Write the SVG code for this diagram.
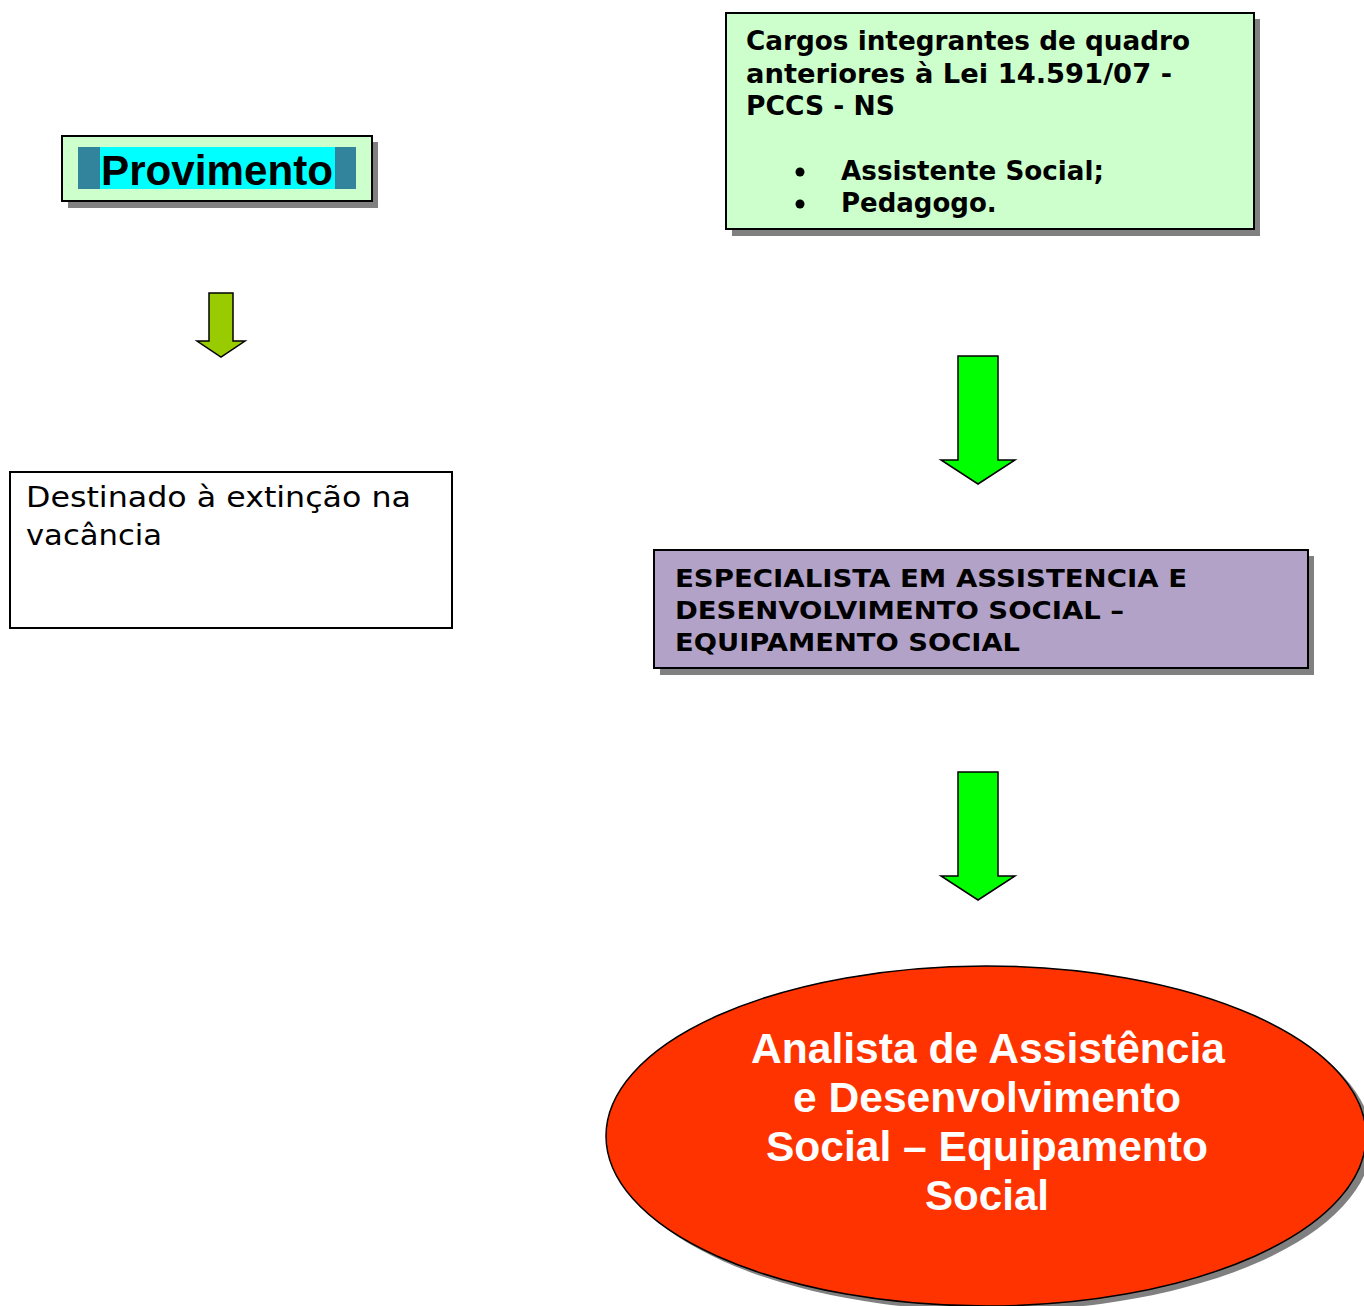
<svg xmlns="http://www.w3.org/2000/svg" width="1364" height="1306" viewBox="0 0 1364 1306">
<style>
.shadow{fill:#808080}
.box{stroke:#000;stroke-width:2}
.v{font-family:"DejaVu Sans",Verdana,sans-serif}
.vb{font-family:"DejaVu Sans",Verdana,sans-serif;font-weight:bold}
.a{font-family:"Liberation Sans",Arial,sans-serif;font-weight:bold}
.arrow{stroke:#000;stroke-width:1.5;stroke-linejoin:miter}
</style>
<rect width="1364" height="1306" fill="#fff"/>
<g id="provimento">
  <rect class="shadow" x="68" y="142" width="310" height="66"/>
  <rect class="box" x="62" y="136" width="310" height="65" fill="#CCFFCC"/>
  <rect x="78" y="147" width="278" height="42" fill="#31849B"/>
  <rect x="100" y="147" width="235" height="42" fill="#00FFFF"/>
  <text class="a" x="101" y="185" font-size="42" textLength="232" lengthAdjust="spacingAndGlyphs">Provimento</text>
</g>
<g id="cargos">
  <rect class="shadow" x="732" y="19" width="528" height="217"/>
  <rect class="box" x="726" y="13" width="528" height="216" fill="#CCFFCC"/>
  <text class="vb" font-size="26" fill="#000">
    <tspan x="746" y="50" textLength="444" lengthAdjust="spacingAndGlyphs">Cargos integrantes de quadro</tspan>
    <tspan x="746" y="83" textLength="426" lengthAdjust="spacingAndGlyphs">anteriores à Lei 14.591/07 -</tspan>
    <tspan x="746" y="115" textLength="149" lengthAdjust="spacingAndGlyphs">PCCS - NS</tspan>
  </text>
  <circle cx="800" cy="172" r="4.5" fill="#000"/>
  <circle cx="800" cy="204" r="4.5" fill="#000"/>
  <text class="vb" font-size="26">
    <tspan x="841" y="180" textLength="263" lengthAdjust="spacingAndGlyphs">Assistente Social;</tspan>
    <tspan x="841" y="212">Pedagogo.</tspan>
  </text>
</g>
<g id="destinado">
  <rect x="10" y="472" width="442" height="156" fill="#fff" stroke="#000" stroke-width="2"/>
  <text class="v" font-size="28">
    <tspan x="26" y="507" textLength="385" lengthAdjust="spacingAndGlyphs">Destinado à extinção na</tspan>
    <tspan x="26" y="545" textLength="136" lengthAdjust="spacingAndGlyphs">vacância</tspan>
  </text>
</g>
<g id="especialista">
  <rect class="shadow" x="660" y="556" width="654" height="119"/>
  <rect class="box" x="654" y="550" width="654" height="118" fill="#B2A2C7"/>
  <text class="vb" font-size="25">
    <tspan x="675" y="587" textLength="512" lengthAdjust="spacingAndGlyphs">ESPECIALISTA EM ASSISTENCIA E</tspan>
    <tspan x="675" y="619" textLength="449" lengthAdjust="spacingAndGlyphs">DESENVOLVIMENTO SOCIAL –</tspan>
    <tspan x="675" y="651" textLength="345" lengthAdjust="spacingAndGlyphs">EQUIPAMENTO SOCIAL</tspan>
  </text>
</g>
<g id="analista">
  <ellipse class="shadow" cx="992" cy="1141" rx="380" ry="170"/>
  <ellipse cx="986" cy="1136" rx="380" ry="170" fill="#FF3300" stroke="#000" stroke-width="1.5"/>
  <text class="a" font-size="43" fill="#fff">
    <tspan x="751" y="1063" textLength="474" lengthAdjust="spacingAndGlyphs">Analista de Assistência</tspan>
    <tspan x="793" y="1112" textLength="388" lengthAdjust="spacingAndGlyphs">e Desenvolvimento</tspan>
    <tspan x="766" y="1161" textLength="442" lengthAdjust="spacingAndGlyphs">Social – Equipamento</tspan>
    <tspan x="925" y="1210" textLength="124" lengthAdjust="spacingAndGlyphs">Social</tspan>
  </text>
</g>
<g id="connectors">
  <polygon class="arrow" fill="#99CC00" points="209,293 233,293 233,341 245,341 221,357 197,341 209,341"/>
  <polygon class="arrow" fill="#00FF00" points="958,356 998,356 998,460 1015,460 978,484 941,460 958,460"/>
  <polygon class="arrow" fill="#00FF00" points="958,772 998,772 998,876 1015,876 978,900 941,876 958,876"/>
</g>
</svg>
